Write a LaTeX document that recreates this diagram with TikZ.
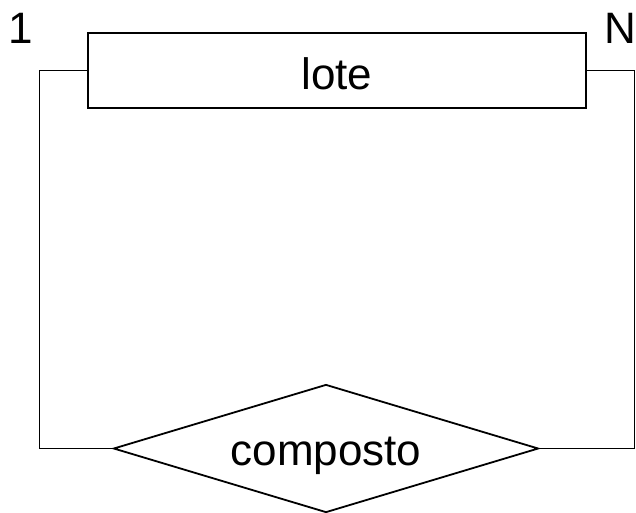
\documentclass[tikz,border=0pt]{standalone}
\usepackage{fontspec}
\setmainfont{Liberation Sans}
\usetikzlibrary{positioning,shapes.geometric}

\begin{document}
\begin{tikzpicture}[x=1pt,y=-1pt,line width=1.8pt,
         font=\fontsize{44}{52}\selectfont,
         entity node/.style={rectangle,draw,minimum width=498pt,minimum height=75pt,
           inner sep=0pt,text height=37pt,text depth=0pt},
         rel node/.style={diamond,draw,aspect=3.3,minimum width=425pt,minimum height=128pt,
           inner sep=0pt,text height=34pt,text depth=0pt},
         card/.style={inner sep=0pt,anchor=base west}]

     \useasboundingbox (0,0) rectangle (636,512);

     \node[entity node] (lote) at (337,70.5) {lote};
     \node[rel node] (rel) at (326,448.5) {composto};

     \coordinate (lc) at (39.5,448.5);
     \coordinate (rc) at (634.5,448.5);

     \node[card] (one) at (8,43) {1};
     \node[card] (many) at (604,43) {N};

     \draw (lote.west) -| (lc) -- (rel.west);
     \draw (lote.east) -| (rc) -- (rel.east);
 \end{tikzpicture}
\end{document}
